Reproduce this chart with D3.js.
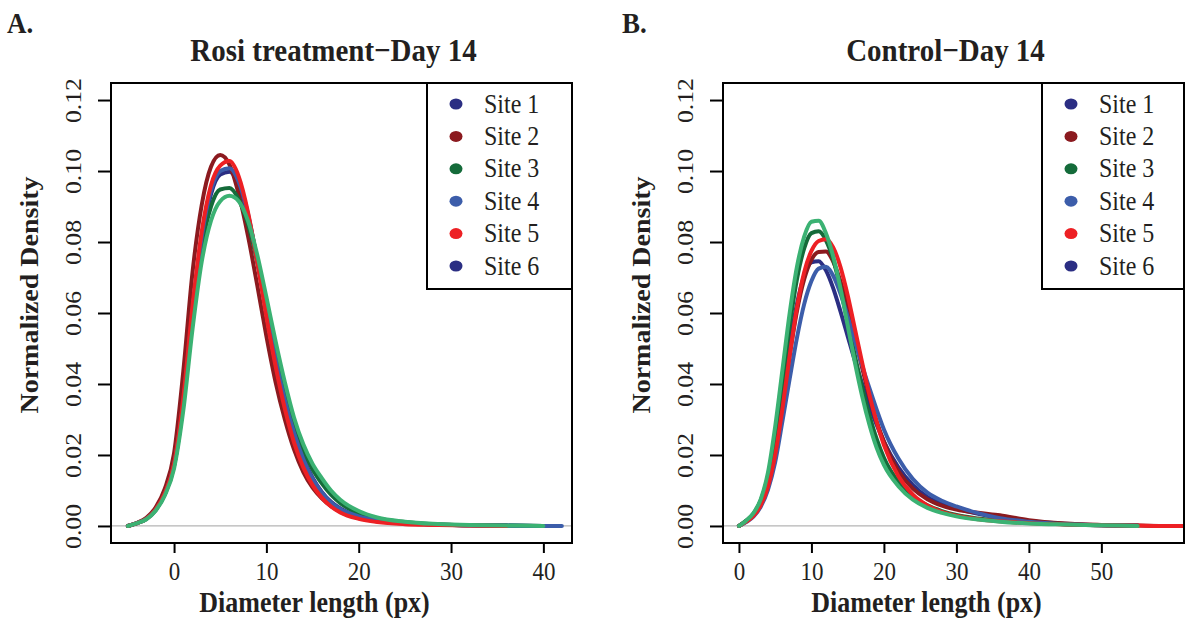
<!DOCTYPE html>
<html>
<head>
<meta charset="utf-8">
<script src="https://cdn.jsdelivr.net/npm/d3@7"></script>
<style>
  body { margin: 0; background: #fff; }
  svg text { font-family: "Liberation Serif", "DejaVu Serif", serif; fill: #231f20; }
</style>
</head>
<body>
<div id="chart"></div>
<script>
// ---- data ----
var siteNames = ["Site 1", "Site 2", "Site 3", "Site 4", "Site 5", "Site 6"];
var legendColors = ["#2b2e83", "#8b1a1f", "#146b3a", "#3c5daa", "#ed2024", "#2b2e83"];
var lineColors = ["#2b2e83", "#8b1a1f", "#146b3a", "#3c5daa", "#ed2024", "#3bb273"];

var yTicks = [0, 0.02, 0.04, 0.06, 0.08, 0.10, 0.12];
var xTicksA = [0, 10, 20, 30, 40];
var xTicksB = [0, 10, 20, 30, 40, 50];

// Rosi treatment - Day 14
var xA = [-5, -4, -3, -2, -1, 0, 1, 2, 3, 4, 5, 6, 7, 8, 9, 10, 11, 12, 13, 14, 15, 16, 17, 18, 20, 22, 25, 28, 32, 36, 40, 42];
var site1A = [0, 0.0008, 0.0020, 0.0045, 0.0090, 0.0170, 0.0345, 0.0595, 0.0805, 0.0935, 0.0990, 0.0998, 0.0962, 0.0875, 0.0750, 0.0610, 0.0478, 0.0362, 0.0268, 0.0192, 0.0136, 0.0096, 0.0068, 0.0049, 0.0028, 0.0016, 0.0008, 0.0004, 0.0002, 0.0001, 0, null];
var site2A = [0, 0.0009, 0.0023, 0.0052, 0.0105, 0.0205, 0.0435, 0.0715, 0.0905, 0.1012, 0.1045, 0.1018, 0.0935, 0.0818, 0.0680, 0.0535, 0.0405, 0.0300, 0.0215, 0.0152, 0.0108, 0.0078, 0.0056, 0.0040, 0.0022, 0.0013, 0.0007, 0.0004, 0.0002, 0.0001, null, null];
var site3A = [0, 0.0008, 0.0020, 0.0045, 0.0090, 0.0170, 0.0345, 0.0590, 0.0785, 0.0900, 0.0948, 0.0952, 0.0920, 0.0850, 0.0745, 0.0620, 0.0495, 0.0382, 0.0287, 0.0215, 0.0160, 0.0120, 0.0088, 0.0064, 0.0036, 0.0021, 0.0011, 0.0005, 0.0002, 0.0001, 0, null];
var site4A = [0, 0.0008, 0.0020, 0.0045, 0.0090, 0.0172, 0.0350, 0.0605, 0.0815, 0.0945, 0.1000, 0.1008, 0.0970, 0.0880, 0.0750, 0.0605, 0.0470, 0.0355, 0.0262, 0.0188, 0.0133, 0.0094, 0.0066, 0.0048, 0.0027, 0.0016, 0.0008, 0.0004, 0.0002, 0.0001, 0, 0];
var site5A = [0, 0.0008, 0.0020, 0.0046, 0.0092, 0.0175, 0.0360, 0.0620, 0.0830, 0.0960, 0.1015, 0.1028, 0.0985, 0.0885, 0.0745, 0.0590, 0.0450, 0.0330, 0.0235, 0.0165, 0.0115, 0.0080, 0.0055, 0.0038, 0.0020, 0.0011, 0.0005, 0.0003, 0.0001, 0, null, null];
var site6A = [0, 0.0008, 0.0019, 0.0043, 0.0086, 0.0162, 0.0325, 0.0555, 0.0745, 0.0860, 0.0915, 0.0930, 0.0915, 0.0860, 0.0765, 0.0645, 0.0520, 0.0405, 0.0305, 0.0230, 0.0175, 0.0135, 0.0100, 0.0074, 0.0042, 0.0024, 0.0012, 0.0006, 0.0003, 0.0001, 0, null];

// Control - Day 14
var xB = [0, 1, 2, 3, 4, 5, 6, 7, 8, 9, 10, 11, 12, 13, 14, 15, 16, 17, 18, 19, 20, 22, 24, 26, 28, 30, 33, 36, 40, 45, 50, 55, 58, 62];
var site1B = [0, 0.0014, 0.0033, 0.0068, 0.0130, 0.0235, 0.0370, 0.0510, 0.0625, 0.0705, 0.0743, 0.0746, 0.0720, 0.0670, 0.0605, 0.0535, 0.0465, 0.0400, 0.0340, 0.0285, 0.0238, 0.0165, 0.0115, 0.0082, 0.0062, 0.0049, 0.0034, 0.0023, 0.0013, 0.0006, 0.0002, 0.0001, null, null];
var site2B = [0, 0.0013, 0.0030, 0.0062, 0.0118, 0.0210, 0.0340, 0.0480, 0.0605, 0.0695, 0.0750, 0.0772, 0.0773, 0.0745, 0.0690, 0.0615, 0.0530, 0.0445, 0.0365, 0.0295, 0.0238, 0.0155, 0.0105, 0.0075, 0.0057, 0.0046, 0.0037, 0.0030, 0.0016, 0.0007, 0.0003, 0.0001, 0, null];
var site3B = [0, 0.0015, 0.0035, 0.0072, 0.0140, 0.0260, 0.0410, 0.0565, 0.0695, 0.0782, 0.0825, 0.0830, 0.0805, 0.0750, 0.0670, 0.0575, 0.0480, 0.0390, 0.0312, 0.0245, 0.0192, 0.0124, 0.0083, 0.0058, 0.0042, 0.0031, 0.0021, 0.0014, 0.0009, 0.0005, 0.0002, 0.0001, null, null];
var site4B = [0, 0.0011, 0.0026, 0.0054, 0.0102, 0.0180, 0.0295, 0.0415, 0.0530, 0.0625, 0.0690, 0.0725, 0.0730, 0.0705, 0.0655, 0.0590, 0.0522, 0.0452, 0.0388, 0.0328, 0.0272, 0.0190, 0.0132, 0.0094, 0.0071, 0.0055, 0.0036, 0.0022, 0.0012, 0.0005, 0.0002, 0.0001, null, null];
var site5B = [0, 0.0012, 0.0028, 0.0058, 0.0110, 0.0200, 0.0330, 0.0480, 0.0615, 0.0715, 0.0775, 0.0803, 0.0808, 0.0785, 0.0730, 0.0650, 0.0555, 0.0460, 0.0370, 0.0292, 0.0228, 0.0140, 0.0088, 0.0058, 0.0040, 0.0029, 0.0019, 0.0013, 0.0008, 0.0004, 0.0002, 0.0001, 0, 0];
var site6B = [0, 0.0015, 0.0036, 0.0075, 0.0150, 0.0280, 0.0440, 0.0600, 0.0730, 0.0815, 0.0857, 0.0860, 0.0825, 0.0760, 0.0670, 0.0565, 0.0460, 0.0365, 0.0285, 0.0220, 0.0172, 0.0112, 0.0074, 0.0051, 0.0037, 0.0027, 0.0018, 0.0012, 0.0007, 0.0004, 0.0002, 0, null, null];

var W = 1187, H = 628;
var stretch = 1.12; // text in the original looks a bit taller than wide

var svg = d3.select("#chart").append("svg")
  .attr("width", W)
  .attr("height", H);

// horizontal text, stretched vertically around its baseline
const addText = (x, y, str, size, bold, anchor) => {
  return svg.append("text")
    .attr("transform", "translate(" + x + "," + y + ") scale(1," + stretch + ")")
    .attr("text-anchor", anchor || "start")
    .attr("font-weight", bold ? "bold" : "normal")
    .attr("font-size", size + "px")
    .text(str);
};

const drawPanel = (cfg) => {
  var left = cfg.left, top = 83, width = 461, height = 460;

  var x = d3.scaleLinear().domain(cfg.xDomain).range([left, left + width]);
  var y = d3.scaleLinear().domain([-0.0048, 0.1248]).range([top + height, top]);

  var clipId = "clip" + cfg.letter;
  svg.append("clipPath").attr("id", clipId)
    .append("rect")
    .attr("x", left).attr("y", top)
    .attr("width", width).attr("height", height);

  // zero reference line
  svg.append("line")
    .attr("x1", left).attr("x2", left + width)
    .attr("y1", y(0)).attr("y2", y(0))
    .attr("stroke", "#b5b5b5")
    .attr("stroke-width", 1.2);

  var line = d3.line()
    .defined(d => d[1] != null)
    .x(d => x(d[0]))
    .y(d => y(d[1]))
    .curve(d3.curveMonotoneX);

  var g = svg.append("g").attr("clip-path", "url(#" + clipId + ")");
  cfg.series.forEach(function (vals, i) {
    var pts = cfg.xs.map((xv, j) => [xv, vals[j]]);
    g.append("path")
      .datum(pts)
      .attr("fill", "none")
      .attr("stroke", lineColors[i])
      .attr("stroke-width", 4)
      .attr("stroke-linejoin", "round")
      .attr("stroke-linecap", "round")
      .attr("d", line);
  });

  // box
  svg.append("rect")
    .attr("x", left).attr("y", top)
    .attr("width", width).attr("height", height)
    .attr("fill", "none")
    .attr("stroke", "#000")
    .attr("stroke-width", 2);

  // y axis
  var yAxis = d3.axisLeft(y)
    .tickValues(yTicks)
    .tickFormat(d3.format(".2f"))
    .tickSize(13)
    .tickSizeOuter(0);
  var ya = svg.append("g")
    .attr("transform", "translate(" + left + ",0)")
    .call(yAxis);
  ya.select(".domain").remove();
  ya.selectAll(".tick line").attr("stroke", "#000").attr("stroke-width", 2);
  ya.selectAll(".tick text")
    .attr("x", null).attr("dy", null)
    .attr("transform", "translate(-38,0) rotate(-90) scale(" + stretch + ",1)")
    .attr("text-anchor", "middle")
    .attr("dominant-baseline", "central")
    .attr("font-family", "Liberation Serif")
    .attr("font-size", "23px")
    .attr("fill", "#231f20");

  // x axis
  var xAxis = d3.axisBottom(x)
    .tickValues(cfg.xTicks)
    .tickSize(10)
    .tickSizeOuter(0);
  var xa = svg.append("g")
    .attr("transform", "translate(0," + (top + height) + ")")
    .call(xAxis);
  xa.select(".domain").remove();
  xa.selectAll(".tick line").attr("stroke", "#000").attr("stroke-width", 2);
  xa.selectAll(".tick text")
    .attr("y", null).attr("dy", null)
    .attr("transform", "translate(0,37) scale(1," + stretch + ")")
    .attr("font-family", "Liberation Serif")
    .attr("font-size", "23px")
    .attr("fill", "#231f20");

  // titles
  addText(left + width / 2 - 8, 61, cfg.title, 29, true, "middle");
  addText(cfg.letterX, 33, cfg.letter + ".", 27, true);
  addText(left + width / 2 - 27, 612, "Diameter length (px)", 26, true, "middle");

  svg.append("text")
    .attr("transform", "translate(" + (left - 81) + "," + (top + height / 2 - 18) + ") rotate(-90) scale(" + stretch + ",1)")
    .attr("text-anchor", "middle")
    .attr("dominant-baseline", "central")
    .attr("font-weight", "bold")
    .attr("font-size", "25px")
    .text("Normalized Density");

  // legend
  var lg = svg.append("g");
  var lx = cfg.legendX, lw = left + width - cfg.legendX;
  lg.append("rect")
    .attr("x", lx).attr("y", top)
    .attr("width", lw).attr("height", 206)
    .attr("fill", "#fff")
    .attr("stroke", "#000")
    .attr("stroke-width", 2);
  siteNames.forEach(function (name, i) {
    var cy = top + 21 + i * 32.4;
    lg.append("ellipse")
      .attr("cx", lx + 29).attr("cy", cy)
      .attr("rx", 6.5).attr("ry", 5.5)
      .attr("fill", legendColors[i]);
    lg.append("text")
      .attr("transform", "translate(" + (lx + 57) + "," + (cy + 8.5) + ") scale(1," + stretch + ")")
      .attr("font-size", "24px")
      .text(name);
  });
};

drawPanel({
  letter: "A", letterX: 7, left: 111,
  title: "Rosi treatment\u2212Day 14",
  xDomain: [-6.83, 43.1], xTicks: xTicksA, xs: xA,
  series: [site1A, site2A, site3A, site4A, site5A, site6A],
  legendX: 427
});

drawPanel({
  letter: "B", letterX: 622, left: 723,
  title: "Control\u2212Day 14",
  xDomain: [-2.2, 61.4], xTicks: xTicksB, xs: xB,
  series: [site1B, site2B, site3B, site4B, site5B, site6B],
  legendX: 1042
});
</script>
</body>
</html>
